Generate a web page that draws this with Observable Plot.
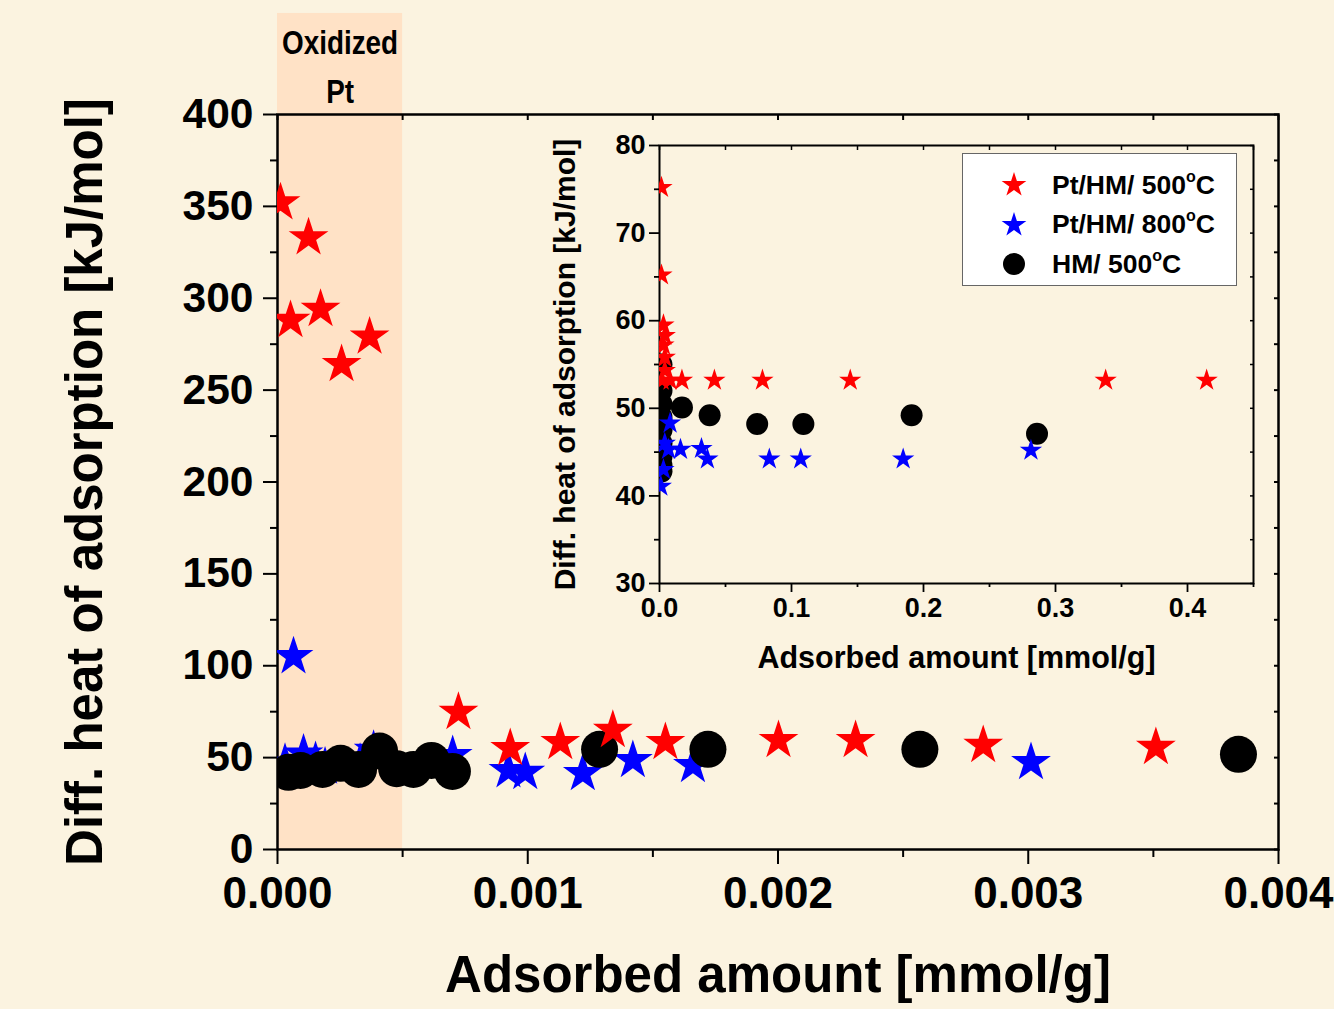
<!DOCTYPE html>
<html><head><meta charset="utf-8">
<script src="https://cdn.jsdelivr.net/npm/d3@7"></script>
<script src="https://cdn.jsdelivr.net/npm/@observablehq/plot@0.6"></script>
<style>
html,body{margin:0;padding:0;background:#fbf3e0;}
#wrap{position:relative;width:1334px;height:1009px;background:#fbf3e0;font-family:"Liberation Sans",Arial,sans-serif;font-weight:bold;overflow:hidden;}
#main{position:absolute;left:0;top:0;}
#inset{position:absolute;left:540px;top:120px;}
#legend{position:absolute;left:962px;top:153px;width:275px;height:133px;background:#fff;border:1.5px solid #666;box-sizing:border-box;}
.lrow{position:absolute;left:0;height:36px;display:flex;align-items:center;font-size:26.5px;color:#000;white-space:nowrap;}
.lrow svg{margin-left:36px;margin-right:23px;}
.lrow sup{font-size:16px;position:relative;top:-2px;}
</style></head><body>
<div id="wrap"><div id="main"></div><div id="inset"></div><div id="legend"></div></div>
<script>
// ---------- series names ----------
const seriesNames = ["Pt/HM/ 500", "Pt/HM/ 800", "HM/ 500"];
const seriesColors = ["#ff0000", "#0000ff", "#000000"];

// ---------- main chart data ----------
const mainRedX  = [0.000012, 0.000124, 0.000052, 0.000172, 0.000256, 0.000368, 0.000723, 0.00093, 0.00113, 0.00134, 0.00155, 0.002002, 0.00231, 0.00282, 0.00351];
const mainRedY  = [352, 333, 288, 294, 264, 279, 74.7, 55, 58.3, 64.9, 58.3, 59.4, 59.4, 56.7, 55.6];
const mainBlueX = [0.000064, 0.00003, 0.000104, 0.000152, 0.00019, 0.00033, 0.000384, 0.0007, 0.000923, 0.00099, 0.00122, 0.00142, 0.00166, 0.003011];
const mainBlueY = [105, 47, 52, 48, 45, 47, 54, 51.2, 43, 42, 41.4, 48.5, 45.8, 47.4];
const mainHMX   = [0.000044, 0.000092, 0.00018, 0.000252, 0.000324, 0.000408, 0.000476, 0.000543, 0.000615, 0.000699, 0.001287, 0.00172, 0.002567, 0.00384];
const mainHMY   = [42, 43, 43.6, 46.9, 43.6, 53.6, 44, 43.6, 48.5, 42.5, 54.5, 54.5, 54.5, 51.8];

// ---------- inset data ----------
const insetRedX  = [0.0015, 0.0015, 0.003, 0.004, 0.003, 0.004, 0.004, 0.002, 0.008, 0.017, 0.0416, 0.078, 0.1445, 0.338, 0.4145];
const insetRedY  = [75.2, 65.2, 59.5, 58.3, 57.2, 55.8, 54.3, 53.2, 53.2, 53.2, 53.2, 53.2, 53.2, 53.2, 53.2];
const insetBlueX = [0.001, 0.003, 0.004, 0.008, 0.0068, 0.0159, 0.0318, 0.0363, 0.0832, 0.107, 0.1846, 0.2814];
const insetBlueY = [41.1, 43, 46, 48.3, 45.3, 45.3, 45.4, 44.2, 44.2, 44.2, 44.2, 45.2];
const insetHMX   = [0.0015, 0.0015, 0.0015, 0.0015, 0.0015, 0.0015, 0.0015, 0.0015, 0.0015, 0.017, 0.038, 0.074, 0.109, 0.191, 0.286];
const insetHMY   = [55, 52, 50.5, 49, 47.5, 46, 44.5, 43.5, 42.8, 50.1, 49.2, 48.2, 48.2, 49.2, 47.1];

// ---------- axes / annotation ----------
const mainXTicks = [0, 0.001, 0.002, 0.003, 0.004];
const mainXMinor = [0.0005, 0.0015, 0.0025, 0.0035];
const mainYTicks = [0, 50, 100, 150, 200, 250, 300, 350, 400];
const mainYMinor = [25, 75, 125, 175, 225, 275, 325, 375];
const insetXTicks = [0, 0.1, 0.2, 0.3, 0.4];
const insetXMinor = [0.05, 0.15, 0.25, 0.35, 0.45];
const insetYTicks = [30, 40, 50, 60, 70, 80];
const insetYMinor = [35, 45, 55, 65, 75];
const oxidizedBand = [{x1: 0, x2: 0.0005, y1: 0, y2: 455}];
const oxidizedLabel = "Oxidized\nPt";
const yTitle = "Diff. heat of adsorption [kJ/mol]";
const xTitle = "Adsorbed amount [mmol/g]";

const zipPts = (xs, ys) => xs.map((x, i) => ({x, y: ys[i]}));
const font = "Liberation Sans, Arial, sans-serif";

// ---------- main plot ----------
const main = Plot.plot({
  width: 1334, height: 1009,
  marginLeft: 277, marginRight: 56, marginTop: 114, marginBottom: 160,
  style: {background: "transparent", fontFamily: font, fontWeight: "bold", color: "#000", overflow: "visible"},
  x: {domain: [0, 0.004]},
  y: {domain: [0, 400]},
  marks: [
    Plot.rect(oxidizedBand, {x1: "x1", x2: "x2", y1: "y1", y2: "y2", fill: "#ffe2c6"}),
    Plot.text([oxidizedLabel], {x: (oxidizedBand[0].x1 + oxidizedBand[0].x2) / 2, frameAnchor: "top", dy: -52, lineAnchor: "middle", text: d => d,
      fontSize: 34, lineHeight: 1.45, fontFamily: font, fontWeight: "bold", fill: "#000", className: "oxlabel"}),
    Plot.axisY(mainYMinor, {tickSize: 7, text: null, strokeWidth: 2, label: null}),
    Plot.axisY(mainYTicks, {tickSize: 14, tickPadding: 10, fontSize: 42.5, strokeWidth: 2, label: null, tickFormat: d3.format("d")}),
    Plot.axisY(mainYTicks.concat(mainYMinor), {anchor: "right", tickSize: -5, text: null, strokeWidth: 2, label: null}),
    Plot.axisX(mainXMinor, {tickSize: 8, text: null, strokeWidth: 2, label: null}),
    Plot.axisX(mainXTicks, {tickSize: 15, tickPadding: 12, fontSize: 44, strokeWidth: 2, label: null, tickFormat: d3.format(".3f")}),
    Plot.axisX(mainXTicks.concat(mainXMinor), {anchor: "top", tickSize: -5, text: null, strokeWidth: 2, label: null}),
    Plot.frame({stroke: "#000", strokeWidth: 2.5}),
    Plot.text([yTitle], {frameAnchor: "left", dx: -192, rotate: -90, textAnchor: "middle", lineAnchor: "middle", text: d => d, fontSize: 51, fontWeight: "bold", fill: "#000"}),
    Plot.text([xTitle], {frameAnchor: "bottom", dy: 126, textAnchor: "middle", lineAnchor: "middle", text: d => d, fontSize: 51, fontWeight: "bold", fill: "#000"}),
    Plot.dot(zipPts(mainBlueX, mainBlueY), {x: "x", y: "y", symbol: "star", r: 12.5, fill: seriesColors[1], stroke: "none", clip: true}),
    Plot.dot(zipPts(mainHMX, mainHMY), {x: "x", y: "y", symbol: "circle", r: 18.5, fill: seriesColors[2], stroke: "none", clip: true}),
    Plot.dot(zipPts(mainRedX, mainRedY), {x: "x", y: "y", symbol: "star", r: 12.5, fill: seriesColors[0], stroke: "none", clip: true})
  ]
});
document.getElementById("main").appendChild(main);
// condensed look for the "Oxidized Pt" label (narrow font face)
d3.select(main).selectAll("g.oxlabel text").each(function() {
  const t = this.getAttribute("transform") || "";
  this.setAttribute("transform", t + " scale(0.82,1)");
});

// ---------- inset plot ----------
const inset = Plot.plot({
  width: 740, height: 570,
  marginLeft: 119, marginRight: 27, marginTop: 25, marginBottom: 107,
  style: {background: "transparent", fontFamily: font, fontWeight: "bold", color: "#000", overflow: "visible"},
  x: {domain: [0, 0.45]},
  y: {domain: [30, 80]},
  marks: [
    Plot.axisY(insetYMinor, {tickSize: 5, text: null, strokeWidth: 1.8, label: null}),
    Plot.axisY(insetYTicks, {tickSize: 10, tickPadding: 4, fontSize: 27, strokeWidth: 1.8, label: null, tickFormat: d3.format("d")}),
    Plot.axisY(insetYTicks.concat(insetYMinor), {anchor: "right", tickSize: -4, text: null, strokeWidth: 1.5, label: null}),
    Plot.axisX(insetXMinor, {tickSize: 4, text: null, strokeWidth: 1.8, label: null}),
    Plot.axisX(insetXTicks, {tickSize: 9, tickPadding: 5, fontSize: 27, strokeWidth: 1.8, label: null, tickFormat: d3.format(".1f")}),
    Plot.axisX(insetXTicks.concat(insetXMinor), {anchor: "top", tickSize: -4, text: null, strokeWidth: 1.5, label: null}),
    Plot.frame({stroke: "#000", strokeWidth: 2}),
    Plot.text([yTitle], {frameAnchor: "left", dx: -94, rotate: -90, textAnchor: "middle", lineAnchor: "middle", text: d => d, fontSize: 30, fontWeight: "bold", fill: "#000"}),
    Plot.text([xTitle], {frameAnchor: "bottom", dy: 75, textAnchor: "middle", lineAnchor: "middle", text: d => d, fontSize: 30.5, fontWeight: "bold", fill: "#000"}),
    Plot.dot(zipPts(insetHMX, insetHMY), {x: "x", y: "y", symbol: "circle", r: 11, fill: seriesColors[2], stroke: "none", clip: true}),
    Plot.dot(zipPts(insetBlueX, insetBlueY), {x: "x", y: "y", symbol: "star", r: 7, fill: seriesColors[1], stroke: "none", clip: true}),
    Plot.dot(zipPts(insetRedX, insetRedY), {x: "x", y: "y", symbol: "star", r: 7, fill: seriesColors[0], stroke: "none", clip: true})
  ]
});
document.getElementById("inset").appendChild(inset);

// ---------- legend ----------
const legend = document.getElementById("legend");
const legendSymbols = [d3.symbolStar, d3.symbolStar, d3.symbolCircle];
const legendSizes = [190, 190, 380];
seriesNames.forEach((name, i) => {
  const row = document.createElement("div");
  row.className = "lrow";
  row.style.top = (13 + i * 39.5) + "px";
  const svg = d3.create("svg").attr("width", 30).attr("height", 30);
  svg.append("path").attr("transform", "translate(15,15)")
    .attr("d", d3.symbol(legendSymbols[i], legendSizes[i])())
    .attr("fill", seriesColors[i]);
  row.appendChild(svg.node());
  const span = document.createElement("span");
  span.innerHTML = name + "<sup>o</sup>C";
  row.appendChild(span);
  legend.appendChild(row);
});
</script>
</body></html>
